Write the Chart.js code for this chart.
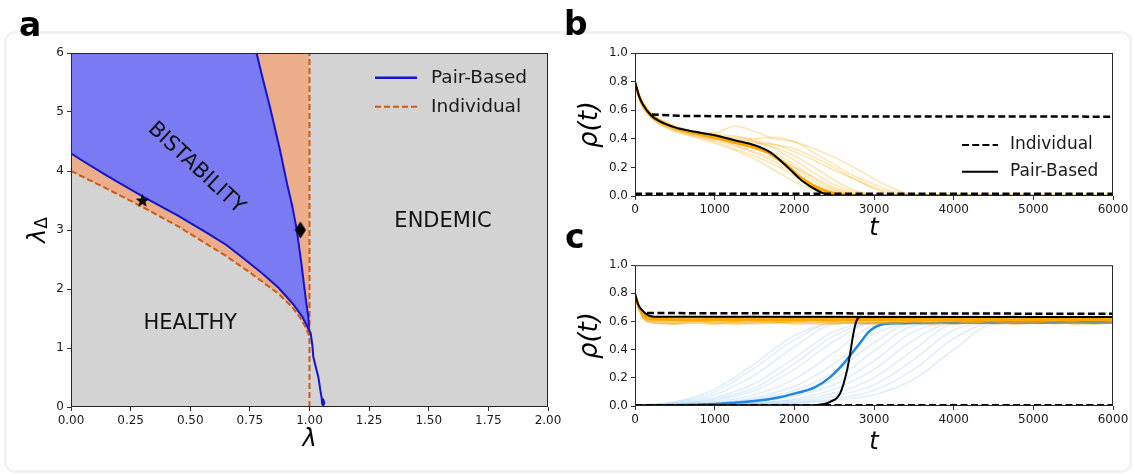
<!DOCTYPE html>
<html>
<head>
<meta charset="utf-8">
<script src="https://cdn.jsdelivr.net/npm/chart.js@4.4.1/dist/chart.umd.min.js"></script>
<style>
  html, body { margin: 0; padding: 0; background: #fff; }
  body { width: 1135px; height: 475px; position: relative; overflow: hidden; font-family: 'DejaVu Sans', sans-serif; }
  .frame { position: absolute; left: 4px; top: 31px; width: 1122px; height: 436px; border: 3px solid #f3f3f3; border-radius: 10px; }
  canvas { position: absolute; }
  .tag { position: absolute; font-weight: bold; font-size: 33px; line-height: 1; color: #000; }
</style>
</head>
<body>
<div class="frame"></div>
<canvas id="chartA" width="572" height="435" style="left:0; top:40px"></canvas>
<canvas id="chartB" width="575" height="215" style="left:560px; top:40px"></canvas>
<canvas id="chartC" width="575" height="220" style="left:560px; top:255px"></canvas>
<div class="tag" style="left:19px; top:8px">a</div>
<div class="tag" style="left:564px; top:7px">b</div>
<div class="tag" style="left:565px; top:220px">c</div>
<script>
// ---- panel a: phase diagram ----
const lamPairLow = [0, 0.05, 0.15, 0.30, 0.45, 0.57, 0.65, 0.72, 0.80, 0.87, 0.93, 0.97, 0.998];
const lamDPairLow = [4.30, 4.17, 3.92, 3.57, 3.24, 2.95, 2.75, 2.53, 2.27, 2.02, 1.75, 1.53, 1.30];

const lamPairUp = [0.778, 0.80, 0.834, 0.876, 0.905, 0.928, 0.946, 0.967, 0.985, 0.995, 0.998,
                   1.005, 1.012, 1.016, 1.025, 1.037, 1.045, 1.051];
const lamDPairUp = [6.0, 5.63, 5.09, 4.36, 3.80, 3.40, 3.02, 2.40, 1.81, 1.53, 1.30,
                    1.25, 1.05, 0.85, 0.70, 0.51, 0.30, 0.15];
const lamPairTail = [1.051, 1.053, 1.058, 1.062, 1.057, 1.051];
const lamDPairTail = [0.15, 0.05, 0.03, 0.07, 0.13, 0.15];

const lamInd = [0, 0.15, 0.30, 0.45, 0.57, 0.65, 0.75, 0.87, 0.93, 0.96, 0.98, 1.0];
const lamDInd = [4.0, 3.70, 3.39, 3.06, 2.76, 2.56, 2.28, 1.92, 1.68, 1.52, 1.38, 1.20];
const lamIndCrit = [1.0, 1.0];
const lamDIndCrit = [0, 6];

const lamTop = 6;           // top of the diagram
const starPoint = [0.30, 3.5];
const diamondPoint = [0.962, 3.0];

const regionNames = ['BISTABILITY', 'ENDEMIC', 'HEALTHY'];
const regionLam = [0.525, 1.56, 0.50];
const regionLamD = [4.05, 3.14, 1.42];
const regionAngle = [43, 0, 0];

const ticksLam = [0, 2, 0.25];
const ticksLamD = [0, 6, 1];

// ---- panel b: trajectories, healthy end ----
const tB = [0, 50, 100, 200, 300, 500, 750, 1000, 1250, 1500, 1750, 2000, 2250, 2500, 2750, 3000, 3250, 3500, 6000];
const runsB = [
  [0.80, 0.71, 0.65, 0.58, 0.54, 0.49, 0.45, 0.44, 0.49, 0.45, 0.40, 0.38, 0.30, 0.22, 0.14, 0.08, 0.03, 0.01, 0],
  [0.80, 0.70, 0.64, 0.57, 0.53, 0.48, 0.45, 0.42, 0.41, 0.40, 0.41, 0.38, 0.33, 0.27, 0.20, 0.12, 0.05, 0.01, 0],
  [0.79, 0.69, 0.63, 0.56, 0.52, 0.47, 0.44, 0.41, 0.38, 0.37, 0.36, 0.33, 0.27, 0.20, 0.12, 0.05, 0.01, 0, 0],
  [0.79, 0.69, 0.62, 0.55, 0.51, 0.46, 0.42, 0.39, 0.35, 0.30, 0.24, 0.16, 0.08, 0.03, 0.01, 0, 0, 0, 0],
  [0.80, 0.70, 0.63, 0.56, 0.52, 0.47, 0.43, 0.40, 0.37, 0.34, 0.30, 0.22, 0.12, 0.05, 0.01, 0, 0, 0, 0],
  [0.79, 0.68, 0.62, 0.55, 0.50, 0.45, 0.41, 0.37, 0.32, 0.26, 0.18, 0.10, 0.04, 0.01, 0, 0, 0, 0, 0],
  [0.80, 0.70, 0.64, 0.57, 0.53, 0.48, 0.44, 0.41, 0.39, 0.38, 0.34, 0.28, 0.20, 0.11, 0.04, 0.01, 0, 0, 0],
  [0.79, 0.69, 0.63, 0.56, 0.51, 0.46, 0.42, 0.38, 0.33, 0.28, 0.22, 0.14, 0.06, 0.02, 0, 0, 0, 0, 0],
  [0.80, 0.70, 0.63, 0.57, 0.52, 0.48, 0.45, 0.43, 0.42, 0.39, 0.36, 0.31, 0.25, 0.18, 0.12, 0.06, 0.02, 0, 0],
  [0.79, 0.69, 0.62, 0.55, 0.51, 0.46, 0.43, 0.40, 0.36, 0.31, 0.26, 0.20, 0.13, 0.06, 0.02, 0, 0, 0, 0],
  [0.80, 0.70, 0.63, 0.56, 0.52, 0.47, 0.44, 0.42, 0.40, 0.38, 0.33, 0.25, 0.16, 0.08, 0.03, 0.01, 0, 0, 0],
  [0.79, 0.69, 0.62, 0.56, 0.52, 0.47, 0.43, 0.40, 0.37, 0.33, 0.28, 0.20, 0.10, 0.04, 0.01, 0, 0, 0, 0]
];
const tMeanB = [0, 50, 100, 200, 300, 500, 750, 1000, 1250, 1500, 1700, 1900, 2100, 2300, 2500, 2700, 2900, 6000];
const rhoMeanB = [0.79, 0.70, 0.64, 0.57, 0.53, 0.48, 0.44, 0.41, 0.375, 0.34, 0.295, 0.215, 0.12, 0.055, 0.018, 0.005, 0, 0];
const tPairB = [0, 50, 100, 200, 300, 500, 700, 1000, 1250, 1500, 1700, 1900, 2100, 2300, 2400, 2500, 6000];
const rhoPairB = [0.80, 0.70, 0.64, 0.565, 0.525, 0.48, 0.455, 0.425, 0.39, 0.355, 0.305, 0.21, 0.105, 0.035, 0.012, 0.003, 0];
const tIndHighB = [210, 600, 1500, 6000];
const rhoIndHighB = [0.57, 0.56, 0.556, 0.555];
const tIndLow = [0, 6000];
const rhoIndLowB = [0.015, 0.015];

// ---- panel c: trajectories, endemic end ----
const tOrC = [0, 50, 100, 150, 250, 500, 750, 1000, 1250, 1500, 1750, 2000, 2250, 2500, 2750, 3000,
              3250, 3500, 3750, 4000, 4250, 4500, 4750, 5000, 5250, 5500, 5750, 6000];
const runsOrC = [
  [0.80, 0.70, 0.64, 0.62, 0.61, 0.60, 0.61, 0.59, 0.60, 0.61, 0.60, 0.59, 0.61, 0.60, 0.62, 0.60, 0.59, 0.60, 0.61, 0.60, 0.59, 0.61, 0.60, 0.60, 0.61, 0.59, 0.60, 0.61],
  [0.79, 0.69, 0.63, 0.61, 0.60, 0.62, 0.60, 0.61, 0.59, 0.60, 0.62, 0.61, 0.60, 0.59, 0.60, 0.61, 0.62, 0.60, 0.59, 0.61, 0.62, 0.60, 0.59, 0.61, 0.60, 0.62, 0.61, 0.60],
  [0.80, 0.70, 0.65, 0.63, 0.62, 0.61, 0.62, 0.63, 0.61, 0.62, 0.61, 0.63, 0.62, 0.61, 0.62, 0.63, 0.61, 0.62, 0.63, 0.62, 0.61, 0.62, 0.63, 0.62, 0.61, 0.62, 0.63, 0.62],
  [0.79, 0.68, 0.62, 0.60, 0.59, 0.58, 0.60, 0.59, 0.58, 0.59, 0.60, 0.58, 0.59, 0.60, 0.59, 0.58, 0.60, 0.59, 0.58, 0.60, 0.59, 0.60, 0.58, 0.59, 0.60, 0.58, 0.59, 0.59],
  [0.80, 0.71, 0.65, 0.63, 0.63, 0.62, 0.61, 0.62, 0.63, 0.62, 0.62, 0.61, 0.62, 0.63, 0.61, 0.62, 0.62, 0.63, 0.61, 0.62, 0.63, 0.61, 0.62, 0.62, 0.63, 0.61, 0.62, 0.63],
  [0.79, 0.69, 0.63, 0.61, 0.60, 0.59, 0.61, 0.60, 0.62, 0.60, 0.59, 0.60, 0.61, 0.62, 0.60, 0.59, 0.61, 0.60, 0.62, 0.61, 0.60, 0.62, 0.61, 0.59, 0.61, 0.60, 0.62, 0.60],
  [0.80, 0.69, 0.63, 0.60, 0.59, 0.585, 0.59, 0.58, 0.595, 0.585, 0.59, 0.60, 0.585, 0.58, 0.595, 0.59, 0.585, 0.60, 0.59, 0.58, 0.595, 0.585, 0.59, 0.60, 0.585, 0.59, 0.58, 0.59],
  [0.79, 0.70, 0.64, 0.62, 0.61, 0.615, 0.605, 0.61, 0.60, 0.615, 0.605, 0.62, 0.61, 0.605, 0.61, 0.62, 0.60, 0.61, 0.615, 0.60, 0.61, 0.62, 0.605, 0.61, 0.615, 0.60, 0.61, 0.605],
  [0.80, 0.71, 0.66, 0.64, 0.63, 0.625, 0.635, 0.62, 0.63, 0.64, 0.625, 0.63, 0.62, 0.635, 0.63, 0.62, 0.635, 0.625, 0.64, 0.63, 0.62, 0.63, 0.64, 0.625, 0.63, 0.635, 0.62, 0.63]
];
const tBlueC = [0, 500, 1000, 1500, 2000, 2500, 3000, 3500, 4000, 4500, 6000];
const runsBlueC = [
  [0.004, 0.030, 0.12, 0.30, 0.50, 0.59, 0.59, 0.59, 0.59, 0.59, 0.59],
  [0.004, 0.025, 0.10, 0.27, 0.47, 0.59, 0.59, 0.59, 0.59, 0.59, 0.59],
  [0.004, 0.020, 0.08, 0.22, 0.42, 0.58, 0.59, 0.59, 0.59, 0.59, 0.59],
  [0.004, 0.015, 0.06, 0.16, 0.34, 0.53, 0.59, 0.59, 0.59, 0.59, 0.59],
  [0.004, 0.012, 0.05, 0.13, 0.30, 0.50, 0.59, 0.59, 0.59, 0.59, 0.59],
  [0.004, 0.010, 0.04, 0.11, 0.26, 0.46, 0.59, 0.59, 0.59, 0.59, 0.59],
  [0.004, 0.010, 0.03, 0.08, 0.19, 0.38, 0.57, 0.59, 0.59, 0.59, 0.59],
  [0.004, 0.008, 0.02, 0.06, 0.14, 0.30, 0.51, 0.59, 0.59, 0.59, 0.59],
  [0.004, 0.006, 0.018, 0.05, 0.11, 0.24, 0.45, 0.59, 0.59, 0.59, 0.59],
  [0.004, 0.006, 0.015, 0.04, 0.09, 0.19, 0.39, 0.57, 0.59, 0.59, 0.59],
  [0.004, 0.005, 0.012, 0.03, 0.07, 0.15, 0.32, 0.53, 0.59, 0.59, 0.59],
  [0.004, 0.005, 0.010, 0.022, 0.05, 0.12, 0.26, 0.47, 0.59, 0.59, 0.59],
  [0.004, 0.005, 0.008, 0.018, 0.04, 0.09, 0.20, 0.40, 0.58, 0.59, 0.59],
  [0.004, 0.005, 0.008, 0.015, 0.03, 0.07, 0.15, 0.33, 0.54, 0.59, 0.59],
  [0.004, 0.004, 0.006, 0.012, 0.022, 0.05, 0.11, 0.26, 0.48, 0.59, 0.59],
  [0.004, 0.004, 0.006, 0.010, 0.018, 0.04, 0.08, 0.19, 0.40, 0.58, 0.59]
];
const tBlueMeanC = [150, 500, 1000, 1500, 1800, 2000, 2250, 2450, 2600, 2800, 2950, 3075, 3300, 4000, 5000, 6000];
const rhoBlueMeanC = [0.004, 0.006, 0.015, 0.035, 0.06, 0.088, 0.13, 0.205, 0.29, 0.43, 0.535, 0.575, 0.588, 0.592, 0.595, 0.595];
const tOrMeanC = [0, 50, 100, 150, 200, 400, 800, 1200, 1600, 2000, 2400, 2800, 3200, 3600, 4000, 4400, 4800, 5200, 5600, 6000];
const rhoOrMeanC = [0.79, 0.70, 0.65, 0.63, 0.62, 0.615, 0.612, 0.616, 0.613, 0.615, 0.612, 0.616, 0.614, 0.617, 0.613, 0.615, 0.612, 0.616, 0.614, 0.613];
const tPairHighC = [0, 40, 100, 150, 200, 300, 6000];
const rhoPairHighC = [0.80, 0.72, 0.675, 0.65, 0.638, 0.634, 0.632];
const tPairLowC = [0, 2000, 2280, 2450, 2575, 2660, 2700, 2740, 2780, 2825, 2900, 6000];
const rhoPairLowC = [0.005, 0.005, 0.008, 0.03, 0.09, 0.25, 0.37, 0.51, 0.605, 0.632, 0.632, 0.632];
const tIndHighC = [150, 6000];
const rhoIndHighC = [0.66, 0.655];
const rhoIndLowC = [0.005, 0.005];

const ticksT = [0, 6000, 1000];
const ticksRho = [0, 1, 0.2];

// ---- helpers ----
const FONT = "'DejaVu Sans', sans-serif";
Chart.defaults.font.family = FONT;
Chart.defaults.color = '#1a1a1a';
Chart.defaults.animation = false;
Chart.defaults.events = [];
Chart.defaults.plugins.legend.display = false;
Chart.defaults.plugins.tooltip.enabled = false;

const pts = (xs, ys) => xs.map((x, i) => ({ x: x, y: ys[i] }));

function line(xs, ys, o) {
  return Object.assign({ data: pts(xs, ys), pointRadius: 0, borderWidth: 2, fill: false, tension: 0 }, o);
}

function axis(range, digits, fit, title) {
  return {
    type: 'linear', min: range[0], max: range[1],
    afterFit: fit,
    ticks: { stepSize: range[2], autoSkip: false, maxRotation: 0, padding: 3, color: '#1a1a1a',
             font: { size: 12 }, callback: v => v.toFixed(digits) },
    grid: { drawOnChartArea: false, tickLength: 4, color: '#333', tickWidth: 1 },
    border: { display: false },
    title: title || { display: false }
  };
}

// plot background and the four spines
function areaFrame(bg) {
  return {
    id: 'areaFrame',
    beforeDraw(chart) {
      if (!bg) return;
      const { ctx, chartArea: a } = chart;
      ctx.save();
      ctx.fillStyle = bg;
      ctx.fillRect(a.left, a.top, a.right - a.left, a.bottom - a.top);
      ctx.restore();
    },
    afterDatasetsDraw(chart) {
      const { ctx, chartArea: a } = chart;
      ctx.save();
      ctx.strokeStyle = '#262626';
      ctx.lineWidth = 1;
      ctx.strokeRect(a.left + 0.5, a.top + 0.5, a.right - a.left - 1, a.bottom - a.top - 1);
      ctx.restore();
    }
  };
}

// matplotlib-style legend sitting inside the axes
function inlineLegend(items, g) {
  return {
    id: 'inlineLegend',
    afterDraw(chart) {
      const { ctx, chartArea: a } = chart;
      ctx.save();
      ctx.font = g.size + 'px ' + FONT;
      ctx.textBaseline = 'middle';
      ctx.fillStyle = '#1a1a1a';
      items.forEach((it, i) => {
        const y = a.top + g.top + i * g.gap;
        ctx.strokeStyle = it.color;
        ctx.lineWidth = it.width;
        ctx.setLineDash(it.dash || []);
        ctx.beginPath();
        ctx.moveTo(a.right + g.x0, y);
        ctx.lineTo(a.right + g.x1, y);
        ctx.stroke();
        ctx.fillText(it.label, a.right + g.tx, y);
      });
      ctx.restore();
    }
  };
}

const regionLabels = {
  id: 'regionLabels',
  afterDatasetsDraw(chart) {
    const { ctx, scales: { x, y } } = chart;
    ctx.save();
    ctx.fillStyle = '#111';
    ctx.font = '21px ' + FONT;
    ctx.textAlign = 'center';
    ctx.textBaseline = 'middle';
    regionNames.forEach((name, i) => {
      ctx.save();
      ctx.translate(x.getPixelForValue(regionLam[i]), y.getPixelForValue(regionLamD[i]));
      ctx.rotate(regionAngle[i] * Math.PI / 180);
      ctx.fillText(name, 0, 0);
      ctx.restore();
    });
    ctx.restore();
  }
};

// y title of panel a: lambda with a Delta subscript
const lamDeltaTitle = {
  id: 'lamDeltaTitle',
  afterDraw(chart) {
    const { ctx } = chart;
    ctx.save();
    ctx.translate(45, 203);
    ctx.rotate(-Math.PI / 2);
    ctx.fillStyle = '#000';
    ctx.textBaseline = 'alphabetic';
    ctx.font = 'italic 24px ' + FONT;
    ctx.fillText('λ', 0, 0);
    const w = ctx.measureText('λ').width;
    ctx.font = '17px ' + FONT;
    ctx.fillText('Δ', w, 2);
    ctx.restore();
  }
};

function starImage() {
  const c = document.createElement('canvas');
  c.width = 15; c.height = 15;
  const g = c.getContext('2d');
  g.fillStyle = '#000';
  g.beginPath();
  for (let i = 0; i < 10; i++) {
    const r = i % 2 ? 3 : 7.2;
    const ang = -Math.PI / 2 + i * Math.PI / 5;
    g.lineTo(7.5 + r * Math.cos(ang), 8 + r * Math.sin(ang));
  }
  g.closePath();
  g.fill();
  return c;
}

function diamondImage() {
  const c = document.createElement('canvas');
  c.width = 12; c.height = 18;
  const g = c.getContext('2d');
  g.fillStyle = '#000';
  g.beginPath();
  g.moveTo(6, 0.5); g.lineTo(11.5, 9); g.lineTo(6, 17.5); g.lineTo(0.5, 9);
  g.closePath();
  g.fill();
  return c;
}

const BLUE = '#1414cc';
const RUST = '#cf5a14';
const BLUE_FILL = '#7a7bf2';
const SALMON = '#ecae8a';
const GREY = '#d3d3d3';

// ---- chart a ----
new Chart(document.getElementById('chartA'), {
  type: 'line',
  data: {
    datasets: [
      // 0: upper edge of the bistable region (fill target only)
      line([0].concat(lamPairUp.slice(0, 11)), [lamTop].concat(lamDPairUp.slice(0, 11)),
           { borderColor: 'rgba(0,0,0,0)', borderWidth: 1, order: 8 }),
      // 1: region between individual boundary and the top
      line(lamInd.concat([1.0]), lamDInd.concat([lamTop]),
           { borderColor: 'rgba(0,0,0,0)', borderWidth: 1, fill: 'end', backgroundColor: SALMON, order: 9 }),
      // 2: pair-based lower boundary, filling the bistable region
      line(lamPairLow, lamDPairLow, { borderColor: BLUE, borderWidth: 2, fill: 0, backgroundColor: BLUE_FILL, order: 5 }),
      line(lamInd, lamDInd, { borderColor: RUST, borderWidth: 2, borderDash: [6, 3], order: 3 }),
      line(lamIndCrit, lamDIndCrit, { borderColor: RUST, borderWidth: 2, borderDash: [6, 3], order: 3 }),
      line(lamPairUp, lamDPairUp, { borderColor: BLUE, borderWidth: 2, order: 2 }),
      line(lamPairTail, lamDPairTail, { borderColor: BLUE, borderWidth: 2, order: 2 }),
      { data: [{ x: starPoint[0], y: starPoint[1] }], showLine: false, pointRadius: 6, pointStyle: starImage(), order: 0 },
      { data: [{ x: diamondPoint[0], y: diamondPoint[1] }], showLine: false, pointRadius: 6, pointStyle: diamondImage(), order: 0 }
    ]
  },
  options: {
    responsive: false,
    layout: { padding: { left: 0, top: 13, right: 24, bottom: 0 } },
    scales: {
      x: axis(ticksLam, 2, s => { s.height = 68; },
              { display: true, text: 'λ', color: '#000', font: { size: 24, style: 'italic' }, padding: { top: 0, bottom: 21 } }),
      y: axis(ticksLamD, 0, s => { s.width = 71; })
    }
  },
  plugins: [
    areaFrame(GREY), regionLabels, lamDeltaTitle,
    inlineLegend([
      { label: 'Pair-Based', color: BLUE, width: 2.5 },
      { label: 'Individual', color: RUST, width: 2, dash: [6, 3] }
    ], { size: 18.5, top: 24.7, gap: 29, x0: -173, x1: -131, tx: -117 })
  ]
});

// ---- chart b ----
const dsB = runsB.map(r => line(tB, r, { borderColor: 'rgba(255,165,0,0.3)', borderWidth: 1.5, cubicInterpolationMode: 'monotone', order: 10 }));
dsB.push(line(tMeanB, rhoMeanB, { borderColor: '#ffa500', borderWidth: 3, cubicInterpolationMode: 'monotone', order: 6 }));
dsB.push(line(tPairB, rhoPairB, { borderColor: '#000', borderWidth: 2, cubicInterpolationMode: 'monotone', order: 2 }));
dsB.push(line(tIndHighB, rhoIndHighB, { borderColor: '#000', borderWidth: 2.5, borderDash: [7, 3.5], order: 1 }));
dsB.push(line(tIndLow, rhoIndLowB, { borderColor: '#000', borderWidth: 2.5, borderDash: [7, 3.5], order: 1 }));

new Chart(document.getElementById('chartB'), {
  type: 'line',
  data: { datasets: dsB },
  options: {
    responsive: false,
    layout: { padding: { left: 0, top: 13, right: 22, bottom: 0 } },
    scales: {
      x: axis(ticksT, 0, s => { s.height = 59; },
              { display: true, text: 't', color: '#000', font: { size: 24, style: 'italic' }, padding: { top: 0, bottom: 12 } }),
      y: axis(ticksRho, 1, s => { s.width = 75; },
              { display: true, text: 'ρ(t)', color: '#000', font: { size: 26, style: 'italic' }, padding: { top: 15, bottom: 0 } })
    }
  },
  plugins: [
    areaFrame(null),
    inlineLegend([
      { label: 'Individual', color: '#000', width: 2, dash: [7, 3.2] },
      { label: 'Pair-Based', color: '#000', width: 2 }
    ], { size: 17, top: 92, gap: 26.7, x0: -151, x1: -115, tx: -103 })
  ]
});

// ---- chart c ----
const dsC = runsBlueC.map(r => line(tBlueC, r, { borderColor: 'rgba(30,136,229,0.14)', borderWidth: 1.5, cubicInterpolationMode: 'monotone', order: 12 }));
runsOrC.forEach(r => dsC.push(line(tOrC, r, { borderColor: 'rgba(255,165,0,0.45)', borderWidth: 1.5, order: 10 })));
dsC.push(line(tBlueMeanC, rhoBlueMeanC, { borderColor: '#1e88e5', borderWidth: 2.5, cubicInterpolationMode: 'monotone', order: 11 }));
dsC.push(line(tOrMeanC, rhoOrMeanC, { borderColor: '#ffa500', borderWidth: 3, order: 6 }));
dsC.push(line(tPairHighC, rhoPairHighC, { borderColor: '#000', borderWidth: 2, cubicInterpolationMode: 'monotone', order: 2 }));
dsC.push(line(tPairLowC, rhoPairLowC, { borderColor: '#000', borderWidth: 2, cubicInterpolationMode: 'monotone', order: 2 }));
dsC.push(line(tIndHighC, rhoIndHighC, { borderColor: '#000', borderWidth: 2.5, borderDash: [7, 3.5], order: 1 }));
dsC.push(line(tIndLow, rhoIndLowC, { borderColor: '#000', borderWidth: 2.5, borderDash: [7, 3.5], order: 1 }));

new Chart(document.getElementById('chartC'), {
  type: 'line',
  data: { datasets: dsC },
  options: {
    responsive: false,
    layout: { padding: { left: 0, top: 9, right: 22, bottom: 0 } },
    scales: {
      x: axis(ticksT, 0, s => { s.height = 69; },
              { display: true, text: 't', color: '#000', font: { size: 24, style: 'italic' }, padding: { top: 0, bottom: 18 } }),
      y: axis(ticksRho, 1, s => { s.width = 75; },
              { display: true, text: 'ρ(t)', color: '#000', font: { size: 26, style: 'italic' }, padding: { top: 15, bottom: 0 } })
    }
  },
  plugins: [areaFrame(null)]
});
</script>
</body>
</html>
